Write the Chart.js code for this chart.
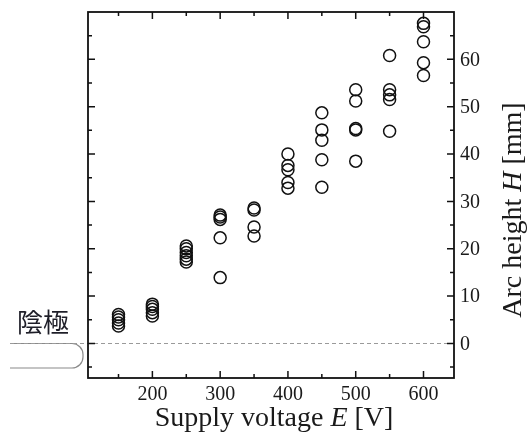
<!DOCTYPE html>
<html>
<head>
<meta charset="utf-8">
<script src="https://cdn.jsdelivr.net/npm/chart.js@4"></script>
<style>
  html, body { margin: 0; padding: 0; background: #fff; }
  #wrap { width: 530px; height: 440px; }
</style>
</head>
<body>
<div id="wrap"><canvas id="arcChart" width="530" height="440"></canvas></div>
<script>
// ===== DATA =====
const voltages = [150, 200, 250, 300, 350, 400, 450, 500, 550, 600];

const heights150 = [3.7, 4.3, 5.0, 5.6, 6.1];
const heights200 = [5.8, 6.5, 7.2, 7.8, 8.3];
const heights250 = [17.2, 17.8, 18.5, 19.2, 20.0, 20.6];
const heights300 = [13.9, 22.3, 26.2, 26.7, 27.1];
const heights350 = [22.7, 24.6, 28.2, 28.6];
const heights400 = [32.8, 34.0, 36.7, 37.6, 40.0];
const heights450 = [33.0, 38.8, 42.9, 45.1, 48.7];
const heights500 = [38.5, 45.1, 45.4, 51.2, 53.6];
const heights550 = [44.8, 51.5, 52.5, 53.6, 60.8];
const heights600 = [56.6, 59.3, 63.7, 66.9, 67.6];

const heightsByVoltage = [
  heights150, heights200, heights250, heights300, heights350,
  heights400, heights450, heights500, heights550, heights600
];

const xMajorTicks = [200, 300, 400, 500, 600];
const xMinorTicks = [150, 250, 350, 450, 550];
const yMajorTicks = [0, 10, 20, 30, 40, 50, 60];
const yMinorTicks = [-5, 5, 15, 25, 35, 45, 55, 65];

const xTitle = [["Supply voltage ", false], ["E", true], [" [V]", false]];
const yTitle = [["Arc height ", false], ["H", true], [" [mm]", false]];
const cathodeLabel = "陰極";

// ===== POINTS =====
const points = [];
voltages.forEach((v, i) => {
  heightsByVoltage[i].forEach(h => points.push({ x: v, y: h }));
});

const SERIF = "'Liberation Serif', 'DejaVu Serif', serif";

function drawMixed(ctx, parts, size) {
  let total = 0;
  parts.forEach(([t, it]) => {
    ctx.font = (it ? "italic " : "") + size + "px " + SERIF;
    total += ctx.measureText(t).width;
  });
  let x = -total / 2;
  parts.forEach(([t, it]) => {
    ctx.font = (it ? "italic " : "") + size + "px " + SERIF;
    ctx.fillText(t, x, 0);
    x += ctx.measureText(t).width;
  });
}

// ===== DECORATION: zero line + cathode =====
const backdrop = {
  id: "backdrop",
  beforeDatasetsDraw(chart) {
    const { ctx, chartArea: a, scales: { y } } = chart;
    const y0 = Math.round(y.getPixelForValue(0)) + 0.5;

    ctx.save();
    // cathode outline
    ctx.strokeStyle = "#8a8a8a";
    ctx.lineWidth = 1.2;
    const left = 10, right = 83, top = y0, bot = y0 + 24.5, r = 11;
    ctx.beginPath();
    ctx.moveTo(left, top);
    ctx.lineTo(right - r, top);
    ctx.arcTo(right, top, right, top + r, r);
    ctx.lineTo(right, bot - r);
    ctx.arcTo(right, bot, right - r, bot, r);
    ctx.lineTo(left, bot);
    ctx.stroke();

    // dashed zero line
    ctx.strokeStyle = "#9a9a9a";
    ctx.lineWidth = 1;
    ctx.setLineDash([4, 3]);
    ctx.beginPath();
    ctx.moveTo(left, y0);
    ctx.lineTo(a.right, y0);
    ctx.stroke();
    ctx.setLineDash([]);

    // label
    ctx.fillStyle = "#1e1e28";
    ctx.font = "26px 'Noto Sans CJK JP', sans-serif";
    ctx.textAlign = "left";
    ctx.textBaseline = "alphabetic";
    ctx.fillText(cathodeLabel, 17, 332);
    ctx.restore();
  }
};

// ===== FRAME, TICKS, LABELS =====
const frame = {
  id: "frame",
  afterDatasetsDraw(chart) {
    const { ctx, chartArea: a, scales: { x, y } } = chart;
    ctx.save();
    ctx.strokeStyle = "#111";
    ctx.lineWidth = 1.8;
    ctx.strokeRect(a.left, a.top, a.right - a.left, a.bottom - a.top);

    ctx.lineWidth = 1.5;
    const tick = (vals, len, horiz) => {
      vals.forEach(v => {
        ctx.beginPath();
        if (horiz) {
          const px = x.getPixelForValue(v);
          ctx.moveTo(px, a.bottom); ctx.lineTo(px, a.bottom - len);
          ctx.moveTo(px, a.top);    ctx.lineTo(px, a.top + len);
        } else {
          const py = y.getPixelForValue(v);
          ctx.moveTo(a.left, py);  ctx.lineTo(a.left + len, py);
          ctx.moveTo(a.right, py); ctx.lineTo(a.right - len, py);
        }
        ctx.stroke();
      });
    };
    tick(xMajorTicks, 7, true);
    tick(xMinorTicks, 4, true);
    tick(yMajorTicks, 7, false);
    tick(yMinorTicks, 4, false);

    ctx.fillStyle = "#1a1a1a";
    ctx.font = "20px " + SERIF;
    ctx.textAlign = "center";
    ctx.textBaseline = "alphabetic";
    xMajorTicks.forEach(v => ctx.fillText(String(v), x.getPixelForValue(v), 400));

    ctx.textAlign = "left";
    ctx.textBaseline = "middle";
    yMajorTicks.forEach(v => ctx.fillText(String(v), a.right + 6, y.getPixelForValue(v) + 1));

    // axis titles
    ctx.textAlign = "left";
    ctx.textBaseline = "alphabetic";
    ctx.save();
    ctx.translate((a.left + a.right) / 2 + 3, 426);
    drawMixed(ctx, xTitle, 28);
    ctx.restore();

    ctx.save();
    ctx.translate(521, 210);
    ctx.rotate(-Math.PI / 2);
    drawMixed(ctx, yTitle, 28);
    ctx.restore();

    ctx.restore();
  }
};

new Chart(document.getElementById("arcChart"), {
  type: "scatter",
  data: {
    datasets: [{
      data: points,
      pointStyle: "circle",
      pointRadius: 6,
      pointHoverRadius: 6,
      borderWidth: 1.5,
      borderColor: "#111",
      backgroundColor: "rgba(0,0,0,0)"
    }]
  },
  options: {
    responsive: false,
    animation: false,
    devicePixelRatio: 1,
    layout: { padding: { left: 88, right: 76, top: 12, bottom: 62 } },
    plugins: { legend: { display: false }, tooltip: { enabled: false } },
    scales: {
      x: { type: "linear", min: 105, max: 645, display: false },
      y: { type: "linear", min: -7.3, max: 70, display: false }
    }
  },
  plugins: [backdrop, frame]
});
</script>
</body>
</html>
